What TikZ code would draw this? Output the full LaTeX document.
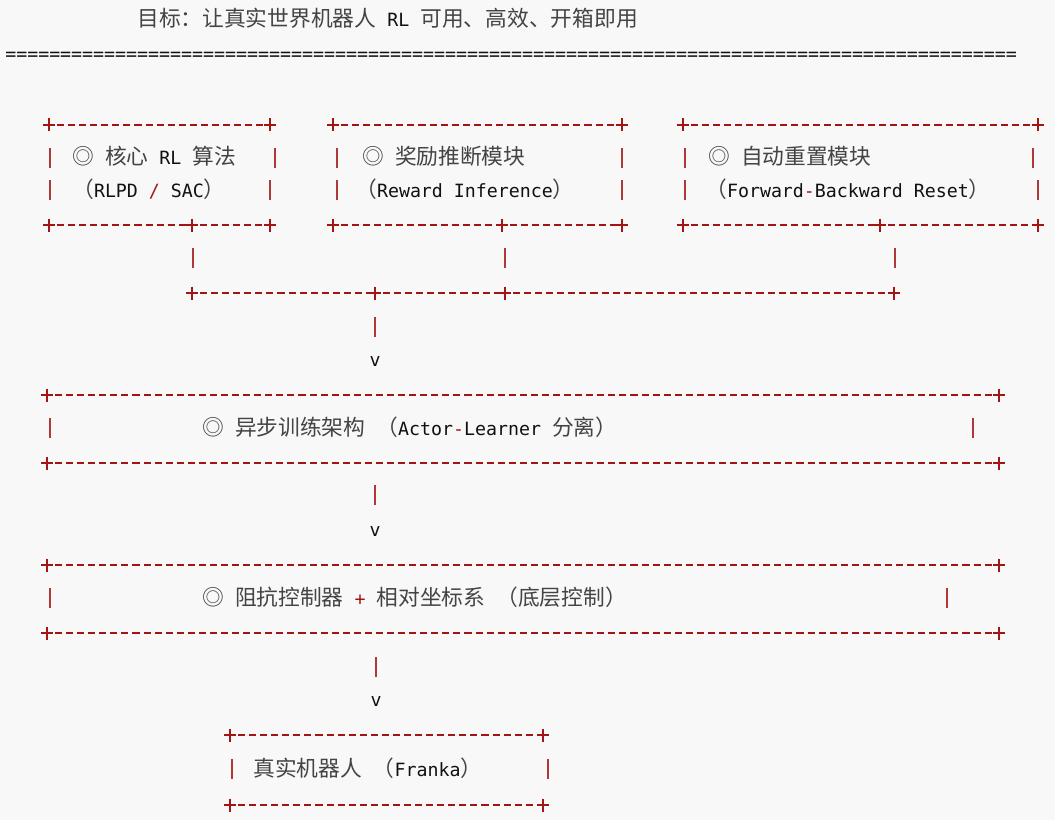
\documentclass[tikz,border=0pt]{standalone}
\usepackage{fontspec}
\newfontfamily\monof{DejaVu Sans Mono}
\newfontfamily\cjkf{Noto Sans CJK SC}[Scale=1.19]
\definecolor{bg}{HTML}{F8F8F8}
\definecolor{ared}{HTML}{A31515}
\definecolor{txt}{HTML}{111111}
\definecolor{zhg}{HTML}{444444}
\newcommand\zh[1]{{\cjkf\color{zhg}#1}}
\newcommand\rd[1]{{\color{ared}#1}}
\begin{document}
\begin{tikzpicture}[x=0.75pt,y=-0.75pt,
  txtn/.style={inner sep=0pt,anchor=base west,font=\monof\fontsize{13.7pt}{16pt}\selectfont,text=txt},
  pl/.style={ared,line width=1.7pt},
  vb/.style={ared!85,line width=1.4pt},
  hr/.style={ared,line width=2pt,dash pattern=on 5.3pt off 3pt}]
\fill[bg] (0,0) rectangle (1055,820);
\useasboundingbox (0,0) rectangle (1055,820);
\newcommand\plus[2]{\draw[pl] (#1-6,#2)--(#1+6,#2) (#1,#2-6.5)--(#1,#2+6.5);}
\newcommand\vbar[2]{\draw[vb] (#1,#2-10)--(#1,#2+10);}
\newcommand\hrow[3]{\draw[hr] (#2+8,#1)--(#3-6,#1);}
% title
\node[txtn] (title) at (137,27) {\zh{目标：让真实世界机器人}\ RL\ \zh{可用、高效、开箱即用}};
\node[txtn] (eq) at (5,61) {============================================================================================};
% box 1
\hrow{125}{49}{270}\plus{49}{125}\plus{270}{125}
\vbar{50}{158}\vbar{275}{158}\vbar{50}{190}\vbar{270}{190}
\node[txtn] (b1a) at (72,165) {\zh{◎}\ \zh{核心}\ RL\ \zh{算法}};
\node[txtn] (b1b) at (72,197) {\zh{（}RLPD\ \rd{/}\ SAC\zh{）}};
\hrow{225}{49}{192}\hrow{225}{192}{270}\plus{49}{225}\plus{192}{225}\plus{270}{225}
% box 2
\hrow{125}{333}{622}\plus{333}{125}\plus{622}{125}
\vbar{337}{158}\vbar{622}{158}\vbar{337}{190}\vbar{622}{190}
\node[txtn] (b2a) at (362,165) {\zh{◎}\ \zh{奖励推断模块}};
\node[txtn] (b2b) at (355,197) {\zh{（}Reward\ Inference\zh{）}};
\hrow{225}{333}{502}\hrow{225}{502}{622}\plus{333}{225}\plus{502}{225}\plus{622}{225}
% box 3
\hrow{125}{683}{1038}\plus{683}{125}\plus{1038}{125}
\vbar{685}{158}\vbar{1033}{158}\vbar{685}{190}\vbar{1038}{190}
\node[txtn] (b3a) at (708,165) {\zh{◎}\ \zh{自动重置模块}};
\node[txtn] (b3b) at (705,197) {\zh{（}Forward\rd{-}Backward\ Reset\zh{）}};
\hrow{225}{683}{880}\hrow{225}{880}{1038}\plus{683}{225}\plus{880}{225}\plus{1038}{225}
% merge row
\vbar{193}{258}\vbar{505}{258}\vbar{895}{258}
\hrow{293}{192}{375}\hrow{293}{375}{505}\hrow{293}{505}{894}
\plus{192}{293}\plus{375}{293}\plus{505}{293}\plus{894}{293}
\vbar{375}{327}
\node[txtn,anchor=base] (v1) at (375,366) {v};
% big box 1
\hrow{395}{47}{999}\plus{47}{395}\plus{999}{395}
\vbar{50}{428}\vbar{973}{428}
\node[txtn] (bb1) at (202,435) {\zh{◎}\ \zh{异步训练架构}\ \zh{（}Actor\rd{-}Learner\ \zh{分离）}};
\hrow{463}{47}{999}\plus{47}{463}\plus{999}{463}
\vbar{375}{495}
\node[txtn,anchor=base] (v2) at (375,536) {v};
% big box 2
\hrow{565}{47}{999}\plus{47}{565}\plus{999}{565}
\vbar{50}{598}\vbar{947}{598}
\node[txtn] (bb2) at (202,605) {\zh{◎}\ \zh{阻抗控制器}\ \rd{+}\ \zh{相对坐标系}\ \zh{（底层控制）}};
\hrow{633}{47}{999}\plus{47}{633}\plus{999}{633}
\vbar{376}{667}
\node[txtn,anchor=base] (v3) at (376,706) {v};
% robot box
\hrow{735}{230}{543}\plus{230}{735}\plus{543}{735}
\vbar{232}{769}\vbar{548}{769}
\node[txtn] (rb) at (253,776) {\zh{真实机器人}\ \zh{（}Franka\zh{）}};
\hrow{805}{230}{543}\plus{230}{805}\plus{543}{805}
\end{tikzpicture}
\end{document}
